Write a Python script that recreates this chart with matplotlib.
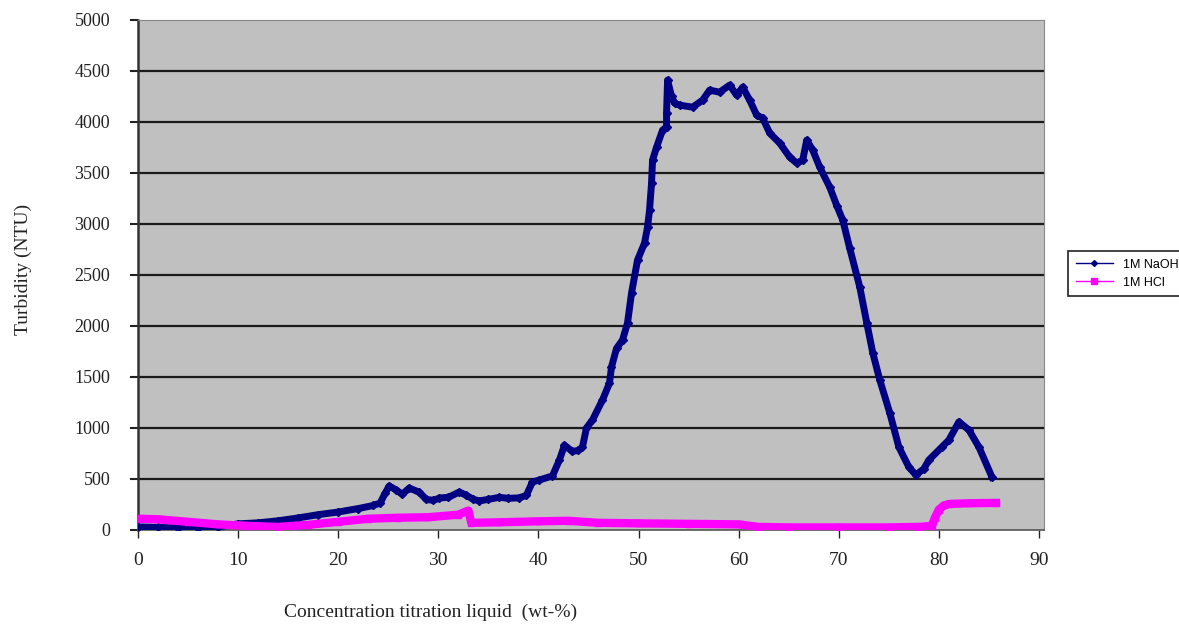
import matplotlib.pyplot as plt
from matplotlib.lines import Line2D

# 1M NaOH turbidity curve
naoh_x = [0, 2, 4, 6, 8, 10, 12, 14, 16, 18, 20, 22, 23.5, 24.2, 24.7, 25.1, 25.8,
          26.4, 27.1, 28.1, 28.8, 29.5, 30.1, 31, 32.1, 32.8, 33.5, 34.1, 35, 36.1,
          37, 38.1, 38.8, 39.4, 40.1, 41.4, 42.1, 42.6, 43.4, 44.0, 44.4, 44.8, 45.4,
          46.4, 47.1, 47.3, 47.8, 48.4, 48.9, 49.3, 49.9, 50.6, 50.9, 51.1, 51.3,
          51.4, 51.8, 52.4, 52.8, 52.8, 52.9, 53.3, 53.6, 54.1, 55.4, 56.4, 57.1,
          58.1, 59.1, 59.8, 60.4, 61.1, 61.8, 62.4, 63.1, 64.1, 65.1, 65.8, 66.4,
          66.8, 67.4, 68.1, 69.1, 69.8, 70.4, 71.1, 72.1, 72.8, 73.4, 74.1, 75.1,
          76.0, 77.0, 77.7, 78.5, 79.0, 80.3, 81.0, 82.0, 83.0, 84.0, 85.3]
naoh_y = [30, 25, 20, 20, 30, 60, 70, 90, 118, 150, 176, 210, 240, 265, 362, 431, 392,
          350, 411, 370, 300, 290, 313, 320, 372, 340, 300, 285, 300, 320,
          310, 315, 340, 470, 490, 530, 686, 830, 770, 780, 813, 1000, 1078,
          1274, 1440, 1597, 1780, 1862, 2029, 2323, 2646, 2813, 2970, 3136, 3400,
          3626, 3753, 3920, 3950, 4087, 4410, 4250, 4185, 4165, 4145, 4214, 4312,
          4292, 4361, 4263, 4341, 4214, 4067, 4038, 3891, 3793, 3655, 3597, 3626,
          3822, 3724, 3557, 3361, 3180, 3038, 2760, 2381, 2029, 1735, 1470, 1146,
          813, 617, 539, 600, 686, 813, 882, 1060, 980, 813, 519]

# 1M HCl turbidity curve
hcl_x = [0, 2, 5, 8, 11, 14, 17, 20, 23, 26, 29, 32, 33, 33.3, 36, 40, 43, 46, 50,
         55, 60, 62, 65, 70, 75, 78, 79.3, 79.6, 80.0, 80.5, 81, 83, 85.7]
hcl_y = [110, 105, 80, 55, 40, 30, 50, 80, 110, 120, 125, 150, 190, 70, 75, 85, 90,
         70, 65, 60, 55, 30, 25, 25, 25, 30, 40, 120, 200, 240, 255, 262, 265]

x_ticks = [0, 10, 20, 30, 40, 50, 60, 70, 80, 90]
y_ticks = [0, 500, 1000, 1500, 2000, 2500, 3000, 3500, 4000, 4500, 5000]

fig = plt.figure(figsize=(11.79, 6.26), dpi=100)
ax = fig.add_axes([0.117, 0.1534, 0.7685, 0.8147])
ax.set_facecolor('#c0c0c0')

for y in y_ticks[1:-1]:
    ax.axhline(y, color='#1a1a1a', lw=1.6, zorder=1)

ax.plot(naoh_x, naoh_y, color='#000080', lw=5, marker='D', ms=4.5,
        solid_joinstyle='round', zorder=3)
ax.plot(hcl_x, hcl_y, color='#ff00ff', lw=6, marker='s', ms=4, zorder=4)

ax.set_xlim(0, 90.5)
ax.set_ylim(0, 5000)
ax.set_xticks(x_ticks)
ax.set_yticks(y_ticks)
ax.tick_params(axis='y', direction='out', length=6, width=1.5, pad=14,
               labelsize=13, colors='#222222')
ax.tick_params(axis='x', direction='out', length=6, width=1, pad=10,
               labelsize=14, colors='#222222')
for lab in ax.get_xticklabels() + ax.get_yticklabels():
    lab.set_family('Liberation Serif')

ax.spines['left'].set_color('#333333')
ax.spines['left'].set_linewidth(1.8)
ax.spines['bottom'].set_color('#555555')
ax.spines['bottom'].set_linewidth(1.2)
ax.spines['top'].set_color('#888888')
ax.spines['right'].set_color('#888888')

fig.text(0.020, 0.57, 'Turbidity (NTU)', rotation=90, ha='center', va='center',
         fontsize=14, family='Liberation Serif', color='#222222')
fig.text(0.365, 0.022, 'Concentration titration liquid  (wt-%)', ha='center',
         va='center', fontsize=14, family='Liberation Serif', color='#222222')

handles = [Line2D([], [], color='#000080', lw=1, marker='D', ms=3),
           Line2D([], [], color='#ff00ff', lw=1, marker='s', ms=5)]
leg = fig.legend(handles, ['1M NaOH', '1M HCl'], loc='upper left',
                 bbox_to_anchor=(0.906, 0.599), borderaxespad=0,
                 prop={'family': 'Liberation Sans', 'size': 9},
                 handlelength=3, fancybox=False, framealpha=1,
                 edgecolor='#222222', borderpad=0.6, labelspacing=0.5)
leg.get_frame().set_linewidth(1.2)

plt.savefig('out.png', dpi=100)
